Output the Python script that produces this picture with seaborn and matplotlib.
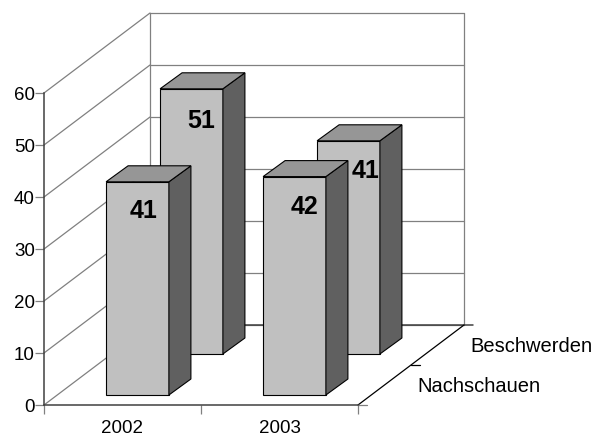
import matplotlib
matplotlib.use("Agg")
import matplotlib.pyplot as plt
from matplotlib.patches import Polygon
import pandas as pd
import seaborn as sns

# values
years = ["2002", "2003"]
nachschauen = [41, 42]
beschwerden = [51, 41]
series_names = ["Beschwerden", "Nachschauen"]
y_ticks = [0, 10, 20, 30, 40, 50, 60]

df = pd.DataFrame({
    "year": years * 2,
    "series": ["Beschwerden"] * 2 + ["Nachschauen"] * 2,
    "value": beschwerden + nachschauen,
})

sns.set_theme(style="white")
plt.rcParams["font.family"] = ["Liberation Sans", "DejaVu Sans"]

fig = plt.figure(figsize=(5.95, 4.37), dpi=100)
# front plane of the fake 3d box
ax = fig.add_axes([44 / 595, (437 - 405) / 437, 314 / 595, 312 / 437])

sns.barplot(data=df, x="year", y="value", hue="series", hue_order=series_names,
            order=years, dodge=False, width=0.4, legend=False, ax=ax,
            palette=["#c0c0c0", "#c0c0c0"], edgecolor="black", linewidth=0.8)
ax.set_xlim(-0.5, 1.5)
ax.set_ylim(0, 60)

# pixels to data units
px = 2 / 314
py = 60 / 312

# depth of the whole box
box_dx = 106 * px
box_dy = 80 * py

wall = "#808080"
dark = "#404040"

# walls and grid
for v in y_ticks:
    ax.plot([-0.5, -0.5 + box_dx], [v, v + box_dy], color=wall, lw=0.9, clip_on=False, zorder=1)
    ax.plot([-0.5 + box_dx, 1.5 + box_dx], [v + box_dy, v + box_dy], color=wall, lw=0.9,
            clip_on=False, zorder=1)
ax.plot([-0.5 + box_dx] * 2, [box_dy, 60 + box_dy], color=wall, lw=0.9, clip_on=False, zorder=1)
ax.plot([1.5 + box_dx] * 2, [box_dy, 60 + box_dy], color=wall, lw=0.9, clip_on=False, zorder=1)

# floor edges
ax.plot([-0.5 + box_dx, 1.5 + box_dx + 9 * px], [box_dy, box_dy], color=dark, lw=1.1, clip_on=False, zorder=1)
ax.plot([1.5, 1.5 + box_dx], [0, box_dy], color="black", lw=0.9, clip_on=False, zorder=1)
ax.plot([1.5 + box_dx / 2, 1.5 + box_dx / 2 + 9 * px], [box_dy / 2, box_dy / 2], color="black", lw=0.9,
        clip_on=False, zorder=1)
ax.plot([1.5, 1.5 + 9 * px], [0, 0], color=wall, lw=0.9, clip_on=False, zorder=1)

# bars moved into their row, with side and top faces
shifts = {"Beschwerden": (69, 51), "Nachschauen": (15, 10)}
side_dx = 22 * px
side_dy = 16 * py
label_nudge = {"Beschwerden": [(10, -32), (17, -30)], "Nachschauen": [(6, -29), (10, -30)]}

for i, name in enumerate(series_names):
    sx, sy = shifts[name]
    z = 2 + i
    for j, bar in enumerate(ax.containers[i]):
        bar.set_x(bar.get_x() + sx * px)
        bar.set_y(sy * py)
        bar.set_zorder(z)
        bar.set_clip_on(False)
        x0 = bar.get_x()
        x1 = x0 + bar.get_width()
        y0 = bar.get_y()
        y1 = y0 + bar.get_height()
        ax.add_patch(Polygon([(x1, y0), (x1 + side_dx, y0 + side_dy), (x1 + side_dx, y1 + side_dy), (x1, y1)],
                             facecolor="#606060", edgecolor="black", lw=0.8, zorder=z, clip_on=False))
        ax.add_patch(Polygon([(x0, y1), (x0 + side_dx, y1 + side_dy), (x1 + side_dx, y1 + side_dy), (x1, y1)],
                             facecolor="#969696", edgecolor="black", lw=0.8, zorder=z, clip_on=False))
        nx, ny = label_nudge[name][j]
        ax.text((x0 + x1) / 2 + nx * px, y1 + ny * py, str(int(bar.get_height())),
                ha="center", va="center", fontsize=18, fontweight="bold", color="black", zorder=z + 0.5)

# axes
for side in ["top", "right"]:
    ax.spines[side].set_visible(False)
for side in ["left", "bottom"]:
    ax.spines[side].set_color(dark)
    ax.spines[side].set_linewidth(1.1)
    ax.spines[side].set_zorder(1.5)

ax.set_xlabel("")
ax.set_ylabel("")
ax.set_yticks(y_ticks)
ax.tick_params(axis="y", length=6.5, width=0.9, color=wall, left=True, labelsize=13.5, pad=0, labelcolor="black")
ax.set_xticks([-0.5, 0.5, 1.5])
ax.set_xticklabels([])
ax.tick_params(axis="x", which="major", length=6.5, width=0.9, color=wall, bottom=True)
ax.set_xticks([0, 1], minor=True)
ax.set_xticklabels(years, minor=True)
ax.tick_params(axis="x", which="minor", length=0, labelsize=13.5, pad=10.5, labelcolor="black")

# depth axis labels
ax.text(1.5 + 59 * px, 18 * py, "Nachschauen", ha="left", va="center", fontsize=14.5, color="black", clip_on=False)
ax.text(1.5 + 112 * px, 58 * py, "Beschwerden", ha="left", va="center", fontsize=14.5, color="black", clip_on=False)

fig.savefig("out.png", dpi=100)
